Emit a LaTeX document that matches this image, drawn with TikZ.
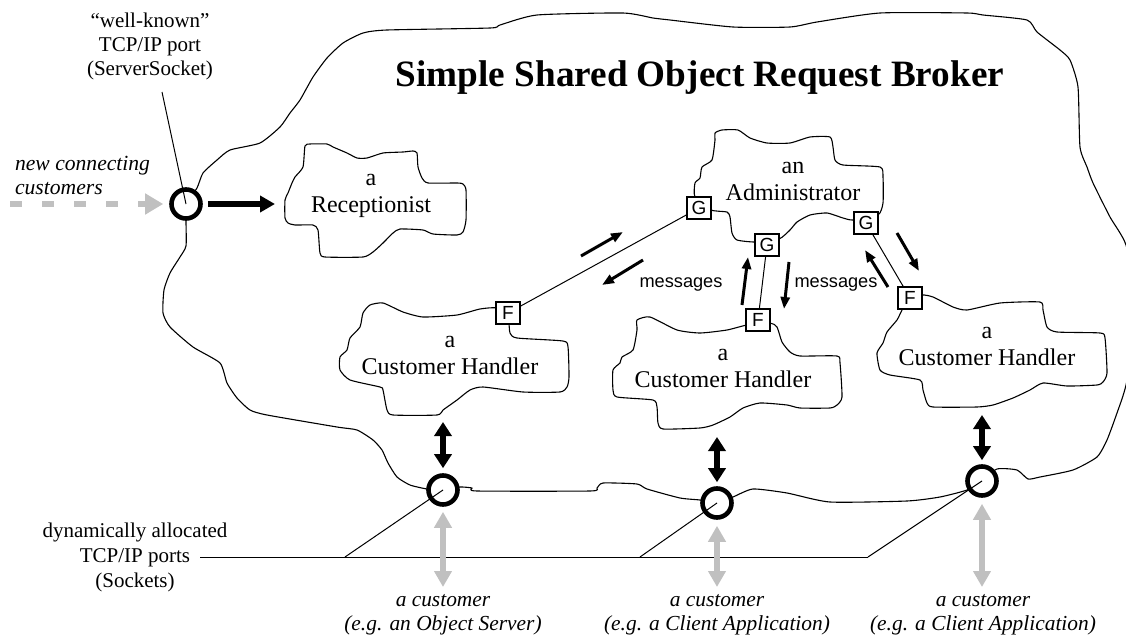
\documentclass[tikz,border=0pt]{standalone}
\usepackage{fontspec}
\setmainfont{Liberation Serif}
\setsansfont{Liberation Sans}
\usetikzlibrary{arrows.meta}
\definecolor{portgrey}{RGB}{192,192,192}

\begin{document}
\begin{tikzpicture}[x=0.5pt, y=-0.5pt,
  outline/.style={line width=0.55pt, line join=round},
  port/.style={circle, draw, line width=2.3pt, minimum size=14.5pt, inner sep=0pt, fill=white},
  gate/.style={draw, line width=0.55pt, fill=white, minimum width=12pt, minimum height=11pt,
               inner sep=0pt, font=\sffamily\fontsize{9.5}{10}\selectfont},
  actor/.style={align=center, font=\fontsize{12}{13.5}\selectfont},
  note/.style={align=center, font=\fontsize{10.5}{12}\selectfont},
  client/.style={align=center, font=\itshape\fontsize{10.7}{12}\selectfont},
  msgtext/.style={font=\sffamily\fontsize{9.1}{10}\selectfont},
  leader/.style={line width=0.5pt},
  duplex/.style={line width=3pt, {Triangle[length=7pt,width=8.5pt]}-{Triangle[length=7pt,width=8.5pt]}},
  greyduplex/.style={line width=3pt, draw=portgrey, {Triangle[length=8pt,width=8.5pt]}-{Triangle[length=8pt,width=8.5pt]}},
  msg/.style={line width=1.5pt, -{Triangle[length=6pt,width=4.5pt]}},
]
\useasboundingbox (0,0) rectangle (1126,637);

% ---------- the broker (outer cloud) ----------
\begin{scope}
\clip (0,0) rectangle (1126,637);
\draw[outline] plot[smooth cycle, tension=0.35] coordinates {
  (186,204) (197,188) (203,173) (217,160) (230,150) (260,143) (280,127) (290,113)
  (300,100) (313,77) (327,58) (343,43) (363,33) (387,30) (490,28) (500,25) (537,15)
  (623,13) (653,18) (670,20) (733,27) (790,27) (817,22) (880,13) (967,13) (983,15)
  (1027,20) (1037,32) (1060,50) (1070,60) (1078,87) (1080,147) (1087,167) (1093,183)
  (1110,217) (1126,245) (1140,310) (1126,385) (1117,413) (1107,440) (1097,457)
  (1073,470) (1040,477) (1028,479) (1017,470) (997,469) (982,481) (967,490) (940,497)
  (907,501) (830,502) (787,493) (753,489) (733,497) (717,503) (700,500) (680,498)
  (647,489) (637,484) (603,483) (597,488) (590,491) (477,491) (472,488) (460,487)
  (443,490) (427,489) (410,485) (397,477) (388,463) (382,450) (373,440) (357,430)
  (337,427) (267,415) (250,410) (237,398) (227,383) (220,363) (193,347) (170,327)
  (163,313) (164,290) (170,273) (180,257) (186,246) (186,222)};
\end{scope}

\node[font=\bfseries\fontsize{18.6}{22}\selectfont] (title) at (700,78)
  {Simple Shared Object Request Broker};

% ---------- receptionist ----------
\draw[outline] plot[smooth cycle, tension=0.35] coordinates {
  (305,146) (303,167) (295,177) (292,183) (288,193) (285,200) (285,218) (288,223)
  (295,225) (313,225) (318,230) (320,253) (325,257) (363,257) (373,252) (383,243)
  (393,233) (400,229) (423,230) (433,234) (457,235) (463,232) (466,220) (466,190)
  (463,184) (457,183) (428,183) (422,178) (418,167) (417,153) (413,151) (403,152)
  (383,153) (367,158) (357,158) (347,153) (333,147) (327,144) (310,144)};
\node[actor] (rec) at (371,196) {a\\Receptionist};

% ---------- administrator ----------
\draw[outline] plot[smooth cycle, tension=0.35] coordinates {
  (715,133) (722,130) (738,130) (750,138) (767,143) (790,143) (810,137) (830,137)
  (833,147) (835,160) (843,165) (880,167) (883,177) (883,203) (878,215) (853,220)
  (843,218) (827,213) (810,215) (797,222) (790,230) (779,239) (755,242) (737,240)
  (732,233) (730,217) (727,212) (711,210) (695,197) (695,183) (700,178) (702,167)
  (712,160) (715,140)};
\node[actor] (adm) at (793,181) {an\\Administrator};

% ---------- customer handlers ----------
\draw[outline] plot[smooth cycle, tension=0.35] coordinates {
  (370,305) (383,303) (403,312) (423,317) (457,315) (480,309) (497,308) (508,318)
  (510,333) (517,338) (563,341) (568,347) (569,377) (567,387) (560,392) (523,392)
  (483,387) (470,390) (457,400) (443,410) (437,415) (393,415) (387,410) (383,390)
  (380,387) (350,380) (340,370) (340,357) (347,350) (350,338) (360,327) (363,313)};
\node[actor] (ch1) at (450,355) {a\\Customer Handler};

\draw[outline] plot[smooth cycle, tension=0.35] coordinates {
  (637,320) (650,317) (677,330) (700,333) (727,330) (747,325) (770,323) (777,327)
  (782,342) (790,352) (800,356) (837,356) (840,363) (842,397) (837,405) (830,408)
  (800,408) (787,405) (760,403) (743,408) (730,417) (713,425) (700,428) (663,429)
  (658,423) (657,407) (653,400) (617,397) (613,390) (613,370) (620,363) (622,357)
  (633,350) (637,330)};
\node[actor] (ch2) at (723,368) {a\\Customer Handler};

\draw[outline] plot[smooth cycle, tension=0.35] coordinates {
  (922,295) (933,297) (953,307) (967,310) (1000,303) (1040,302) (1043,310) (1047,327)
  (1057,332) (1100,333) (1105,338) (1107,373) (1103,382) (1097,385) (1067,386)
  (1043,383) (1030,390) (1013,398) (993,405) (977,407) (933,407) (927,403) (923,390)
  (920,380) (890,375) (880,370) (877,353) (883,343) (887,332) (897,320) (902,310)
  (908,300)};
\node[actor] (ch3) at (987,346) {a\\Customer Handler};

% ---------- gates and facets ----------
\node[gate] (g1) at (699,208) {G};
\node[gate] (g2) at (767,245) {G};
\node[gate] (g3) at (866,223) {G};
\node[gate] (f1) at (508,313) {F};
\node[gate] (f2) at (758,320) {F};
\node[gate] (f3) at (910,298) {F};
\draw[leader] (g1) -- (f1);
\draw[leader] (g2) -- (f2);
\draw[leader] (g3) -- (f3);

% message flow arrows
\coordinate (m1a) at (581,256); \coordinate (m1b) at (623,232);
\coordinate (m2a) at (643,260); \coordinate (m2b) at (602,285);
\coordinate (m3a) at (742,305); \coordinate (m3b) at (748,257);
\coordinate (m4a) at (789,262); \coordinate (m4b) at (784,309);
\coordinate (m5a) at (888,287); \coordinate (m5b) at (865,250);
\coordinate (m6a) at (897,233); \coordinate (m6b) at (919,271);
\draw[msg] (m1a) -- (m1b);
\draw[msg] (m2a) -- (m2b);
\draw[msg] (m3a) -- (m3b);
\draw[msg] (m4a) -- (m4b);
\draw[msg] (m5a) -- (m5b);
\draw[msg] (m6a) -- (m6b);
\node[msgtext] (msgl) at (681,284) {messages};
\node[msgtext] (msgr) at (836,284) {messages};

% ---------- ports ----------
\node[port] (c0) at (186,204) {};
\node[port] (c1) at (443,490) {};
\node[port] (c2) at (717,503) {};
\node[port] (c3) at (982,481) {};

% well-known server port
\node[note] (wk) at (150,46) {``well-known''\\TCP/IP port\\(ServerSocket)};
\coordinate (wkfoot) at (162,92);
\draw[leader] (wkfoot) -- (c0.center);

\node[align=left, font=\itshape\fontsize{10.8}{12}\selectfont, anchor=west] (newc) at (8,175)
  {new connecting\\customers};
\coordinate (arrivals) at (10,204);
\draw[line width=2.8pt, draw=portgrey, dash pattern=on 6pt off 10pt,
      -{Triangle[length=9pt,width=10pt,fill=portgrey]}, shorten >=3pt] (arrivals) -- (c0);
\coordinate (recin) at (275,204);
\draw[line width=2.6pt, -{Triangle[length=7.5pt,width=8pt]}, shorten <=2.5pt] (c0) -- (recin);

% dynamically allocated sockets
\node[note, font=\fontsize{10.5}{12.5}\selectfont] (dyn) at (135,557)
  {dynamically allocated\\TCP/IP ports\\(Sockets)};
\coordinate (busl) at (200,557);
\coordinate (s1) at (345,557);
\coordinate (s2) at (640,557);
\coordinate (s3) at (868,557);
\draw[leader] (busl) -- (s3);
\draw[leader] (s1) -- (c1.center);
\draw[leader] (s2) -- (c2.center);
\draw[leader] (s3) -- (c3.center);

% handler <-> port links
\coordinate (h1) at (443,422);
\coordinate (h2) at (717,437);
\coordinate (h3) at (982,415);
\draw[duplex, shorten >=2.5pt] (h1) -- (c1);
\draw[duplex, shorten >=2pt] (h2) -- (c2);
\draw[duplex, shorten >=2pt] (h3) -- (c3);

% port <-> customer links
\coordinate (k1) at (443,587);
\coordinate (k2) at (717,587);
\coordinate (k3) at (982,587);
\draw[greyduplex, shorten <=2.5pt] (c1) -- (k1);
\draw[greyduplex, shorten <=3pt] (c2) -- (k2);
\draw[greyduplex, shorten <=3pt] (c3) -- (k3);

\node[client] (cu1) at (443,615) {a customer\\(e.g. an Object Server)};
\node[client] (cu2) at (717,615) {a customer\\(e.g. a Client Application)};
\node[client] (cu3) at (983,615) {a customer\\(e.g. a Client Application)};
\end{tikzpicture}
\end{document}
